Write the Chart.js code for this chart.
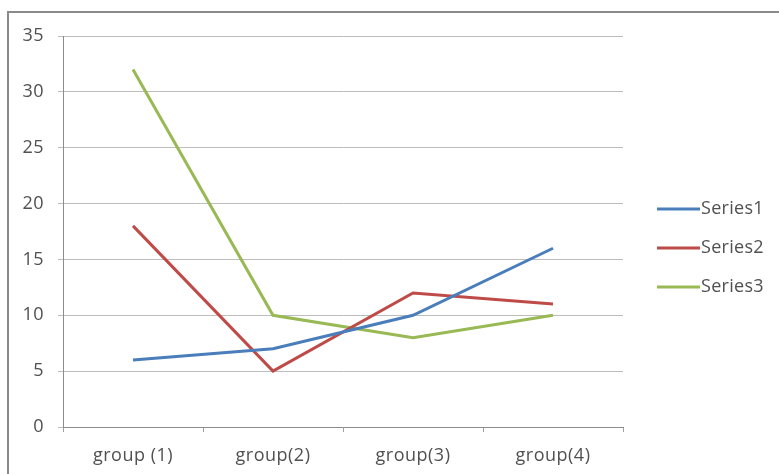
<!DOCTYPE html>
<html>
<head>
<meta charset="utf-8">
<script src="https://cdn.jsdelivr.net/npm/chart.js@4"></script>
<style>
  html, body { margin: 0; padding: 0; background: #fff; }
  #frame { position: absolute; left: 7px; top: 11px; width: 772px; height: 463px;
           border-top: 2px solid #8a8a8a; border-left: 2px solid #8a8a8a; }
  #line { position: absolute; left: 0; top: 0; }
</style>
</head>
<body>
<div id="frame"></div>
<canvas id="line" width="779" height="474"></canvas>
<script>
// chart data
var groups = ['group (1)', 'group(2)', 'group(3)', 'group(4)'];
var seriesNames = ['Series1', 'Series2', 'Series3'];
var series1 = [6, 7, 10, 16];
var series2 = [18, 5, 12, 11];
var series3 = [32, 10, 8, 10];
var yTicks = [0, 5, 10, 15, 20, 25, 30, 35];

var colors = ['#4a7ebb', '#be4b48', '#98b954'];
var textColor = '#505050';
var font = { family: "'Open Sans', sans-serif", size: 18 };

// a bit of letter spacing, the original text is wide
var spacing = {
	id: 'spacing',
	beforeDraw: function (chart) { chart.ctx.letterSpacing = '0.5px'; }
};

// legend drawn at the right, the way Excel puts it
var sideLegend = {
	id: 'sideLegend',
	afterDraw: function (chart) {
		var c = chart.ctx;
		c.save();
		c.font = font.size + 'px ' + font.family;
		c.letterSpacing = '0.3px';
		c.textBaseline = 'middle';
		chart.data.datasets.forEach(function (ds, i) {
			var y = 209 + i * 39;
			c.strokeStyle = ds.borderColor;
			c.lineWidth = 3;
			c.beginPath();
			c.moveTo(657, y);
			c.lineTo(700, y);
			c.stroke();
			c.fillStyle = textColor;
			c.fillText(ds.label, 701, y);
		});
		c.restore();
	}
};

var ctx = document.getElementById('line');

var line = new Chart(ctx, {
	type: 'line',
	data: {
		labels: groups,
		datasets: [
			{ label: seriesNames[0], data: series1, borderColor: colors[0] },
			{ label: seriesNames[1], data: series2, borderColor: colors[1] },
			{ label: seriesNames[2], data: series3, borderColor: colors[2] }
		].map(function (d) {
			d.borderWidth = 3;
			d.pointRadius = 0;
			d.tension = 0;
			d.fill = false;
			return d;
		})
	},
	options: {
		responsive: false,
		animation: false,
		layout: { padding: { top: 36, right: 156, left: 0, bottom: 0 } },
		plugins: {
			legend: { display: false },
			tooltip: { enabled: false }
		},
		scales: {
			x: {
				offset: true,
				afterFit: function (s) { s.height = 47; },
				grid: { offset: true, drawOnChartArea: false, tickLength: 5, color: '#a0a0a0' },
				border: { color: '#8c8c8c', width: 1 },
				ticks: { color: textColor, font: font, padding: 13, maxRotation: 0 }
			},
			y: {
				min: 0,
				max: 35,
				afterFit: function (s) { s.width = 63; },
				afterBuildTicks: function (s) {
					s.ticks = yTicks.map(function (v) { return { value: v }; });
				},
				grid: { color: '#bdbdbd', tickLength: 5 },
				border: { color: '#8c8c8c', width: 1 },
				ticks: { color: textColor, font: font, padding: 14 }
			}
		}
	},
	plugins: [spacing, sideLegend]
});
</script>
</body>
</html>
